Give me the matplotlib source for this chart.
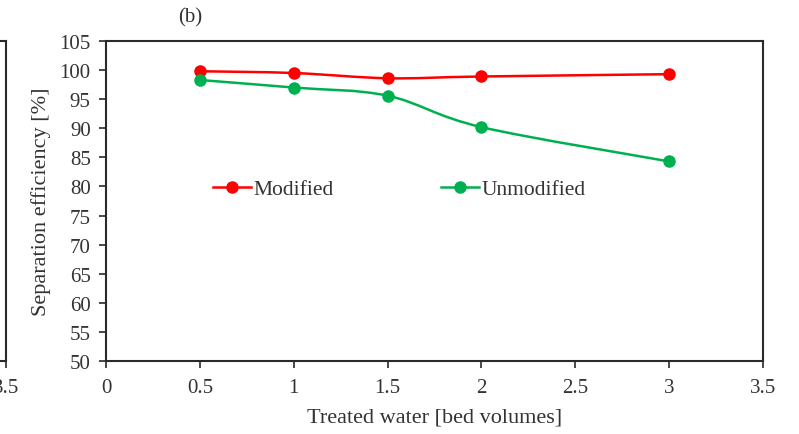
import numpy as np
import matplotlib.pyplot as plt
from matplotlib.path import Path
from matplotlib.patches import PathPatch
from matplotlib.lines import Line2D
from matplotlib.legend import Legend

plt.rcParams['font.family'] = ['Liberation Serif', 'DejaVu Serif']

# Data
bed_volumes = [0.5, 1.0, 1.5, 2.0, 3.0]
modified = [99.8, 99.5, 98.6, 98.9, 99.3]
unmodified = [98.3, 97.0, 95.6, 90.2, 84.3]

x_ticks = [0, 0.5, 1, 1.5, 2, 2.5, 3, 3.5]
y_ticks = list(range(50, 106, 5))

red = '#ff0000'
green = '#00b050'
frame = '#2a2a2a'
txt = '#333333'


def smooth_path(xs, ys):
    # Excel-style smoothed line: Catmull-Rom segments as cubic Beziers
    pts = np.column_stack([xs, ys])
    verts = [pts[0]]
    codes = [Path.MOVETO]
    n = len(pts)
    for i in range(n - 1):
        p0 = pts[max(i - 1, 0)]
        p1 = pts[i]
        p2 = pts[i + 1]
        p3 = pts[min(i + 2, n - 1)]
        c1 = p1 + (p2 - p0) / 6.0
        c2 = p2 - (p3 - p1) / 6.0
        verts += [c1, c2, p2]
        codes += [Path.CURVE4] * 3
    return Path(verts, codes)


fig = plt.figure(figsize=(7.99, 4.35), dpi=100)

# remnant of the neighbouring panel (a) cut off at the left edge
ax_a = fig.add_axes([-0.8, 1 - 362 / 435, 0.8075, 320 / 435])
ax_a.set_xlim(0, 3.5)
ax_a.set_ylim(50, 105)
ax_a.set_xticks(x_ticks)
ax_a.set_xticklabels([str(t) for t in x_ticks])
ax_a.set_yticks([])
for s in ax_a.spines.values():
    s.set_color(frame)
    s.set_linewidth(1.5)
ax_a.tick_params(axis='x', direction='out', length=5, width=1.2, colors=frame,
                 labelsize=15, labelcolor=txt, pad=7)

ax = fig.add_axes([106 / 799, 1 - 362 / 435, 657 / 799, 320 / 435])
for xs, ys, c in [(bed_volumes, modified, red), (bed_volumes, unmodified, green)]:
    ax.add_patch(PathPatch(smooth_path(xs, ys), facecolor='none', edgecolor=c, lw=1.8))
    ax.plot(xs, ys, linestyle='none', marker='o', markersize=8, color=c)

ax.set_xlim(0, 3.5)
ax.set_ylim(50, 105)
ax.set_xticks(x_ticks)
ax.set_xticklabels([str(t) for t in x_ticks])
ax.set_yticks(y_ticks)
for s in ax.spines.values():
    s.set_color(frame)
    s.set_linewidth(1.5)
ax.tick_params(direction='out', length=5, width=1.2, colors=frame,
               labelsize=15, labelcolor=txt)
ax.tick_params(axis='x', pad=7)
ax.tick_params(axis='y', pad=6)
ax.set_xlabel('Treated water [bed volumes]', fontsize=16, color=txt, labelpad=8)
ax.set_ylabel('Separation efficiency [%]', fontsize=16, color=txt, labelpad=6)

names = ['Modified', 'Unmodified']
colors = [red, green]
legend_x = [213, 441]
for name, c, lx in zip(names, colors, legend_x):
    h = Line2D([], [], color=c, lw=1.8, marker='o', markersize=8)
    leg = Legend(ax, [h], [name], frameon=False, fontsize=15.5, loc='center left',
                 bbox_to_anchor=(lx / 799, 1 - 190 / 435), bbox_transform=fig.transFigure,
                 borderpad=0, borderaxespad=0, handlelength=1.75, handletextpad=0.15,
                 labelcolor=txt)
    ax.add_artist(leg)

fig.text(190 / 799, 1 - 18 / 435, '(b)', fontsize=15, color=txt,
         ha='center', va='center')

fig.savefig('out.png', dpi=100)
